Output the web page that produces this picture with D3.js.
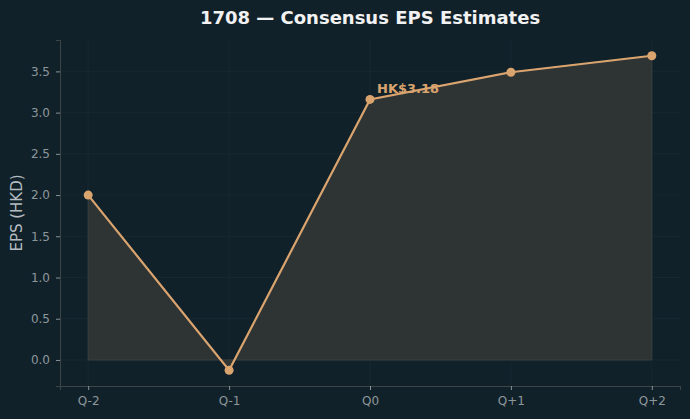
<!DOCTYPE html>
<html>
<head>
<meta charset="utf-8">
<script src="https://cdn.jsdelivr.net/npm/d3@7"></script>
<style>
  html, body { margin: 0; padding: 0; background: #11212a; }
  svg { display: block; font-family: "DejaVu Sans", sans-serif; }
</style>
</head>
<body>
<div id="chart"></div>
<script>
// Data
const quarters = ['Q-2', 'Q-1', 'Q0', 'Q+1', 'Q+2'];
const epsValues = [2.0, -0.125, 3.16, 3.49, 3.69];
const yTicks = [0.0, 0.5, 1.0, 1.5, 2.0, 2.5, 3.0, 3.5];
const annotations = [{ quarter: 'Q0', value: 3.16, text: 'HK$3.18' }];

function drawChart() {
  const width = 690;
  const height = 419;
  const margin = { top: 40, right: 10, bottom: 33, left: 60 };

  const svg = d3.select('#chart')
    .append('svg')
    .attr('width', width)
    .attr('height', height);

  svg.append('rect')
    .attr('width', width)
    .attr('height', height)
    .attr('fill', '#11212a');

  const data = quarters.map((q, i) => ({ q, v: epsValues[i] }));

  // scales, with matplotlib-style 5% padding
  const x = d3.scalePoint()
    .domain(quarters)
    .range([margin.left, width - margin.right])
    .padding(0.2);

  const yMin = d3.min(epsValues);
  const yMax = d3.max(epsValues);
  const pad = (yMax - yMin) * 0.05;
  const y = d3.scaleLinear()
    .domain([yMin - pad, yMax + pad])
    .range([height - margin.bottom, margin.top]);

  // grid
  const grid = svg.append('g');
  grid.selectAll('.gy')
    .data(yTicks)
    .join('line')
    .attr('x1', margin.left)
    .attr('x2', width - margin.right)
    .attr('y1', d => y(d))
    .attr('y2', d => y(d))
    .attr('stroke', '#182831')
    .attr('stroke-width', 1);
  grid.selectAll('.gx')
    .data(quarters)
    .join('line')
    .attr('x1', d => x(d))
    .attr('x2', d => x(d))
    .attr('y1', margin.top)
    .attr('y2', height - margin.bottom)
    .attr('stroke', '#182831')
    .attr('stroke-width', 1);

  // area fill down to zero
  const area = d3.area()
    .x(d => x(d.q))
    .y0(y(0))
    .y1(d => y(d.v));

  svg.append('path')
    .datum(data)
    .attr('d', area)
    .attr('fill', '#2e3333')
    .attr('stroke', '#3b403e')
    .attr('stroke-width', 1);

  // line
  const line = d3.line()
    .x(d => x(d.q))
    .y(d => y(d.v));

  svg.append('path')
    .datum(data)
    .attr('d', line)
    .attr('fill', 'none')
    .attr('stroke', '#daa46f')
    .attr('stroke-width', 2.2);

  svg.selectAll('.pt')
    .data(data)
    .join('circle')
    .attr('cx', d => x(d.q))
    .attr('cy', d => y(d.v))
    .attr('r', 4.5)
    .attr('fill', '#daa46f');

  // annotation
  svg.selectAll('.ann')
    .data(annotations)
    .join('text')
    .attr('x', d => x(d.quarter) + 7)
    .attr('y', d => y(d.value) - 6)
    .attr('fill', '#daa46f')
    .attr('font-size', 13)
    .attr('font-weight', 'bold')
    .text(d => d.text);

  // axes
  const xAxis = svg.append('g')
    .attr('transform', `translate(0,${height - margin.bottom})`)
    .call(d3.axisBottom(x).tickSize(4).tickPadding(6));
  const yAxis = svg.append('g')
    .attr('transform', `translate(${margin.left},0)`)
    .call(d3.axisLeft(y).tickValues(yTicks).tickFormat(d3.format('.1f')).tickSize(4).tickPadding(6));

  [xAxis, yAxis].forEach(g => {
    g.select('.domain').attr('stroke', '#3d4547').attr('stroke-width', 1);
    g.selectAll('.tick line').attr('stroke', '#8a9296');
    g.selectAll('.tick text')
      .attr('fill', '#8d979b')
      .attr('font-size', 12)
      .attr('font-family', '"DejaVu Sans", sans-serif');
  });

  // title
  svg.append('text')
    .attr('x', (margin.left + width - margin.right) / 2)
    .attr('y', 24)
    .attr('text-anchor', 'middle')
    .attr('fill', '#f2f2f2')
    .attr('font-size', 18)
    .attr('font-weight', 'bold')
    .text('1708 — Consensus EPS Estimates');

  // y label
  svg.append('text')
    .attr('transform', `translate(22,${(margin.top + height - margin.bottom) / 2}) rotate(-90)`)
    .attr('text-anchor', 'middle')
    .attr('fill', '#b4bcc0')
    .attr('font-size', 15)
    .text('EPS (HKD)');
}

drawChart();
</script>
</body>
</html>
